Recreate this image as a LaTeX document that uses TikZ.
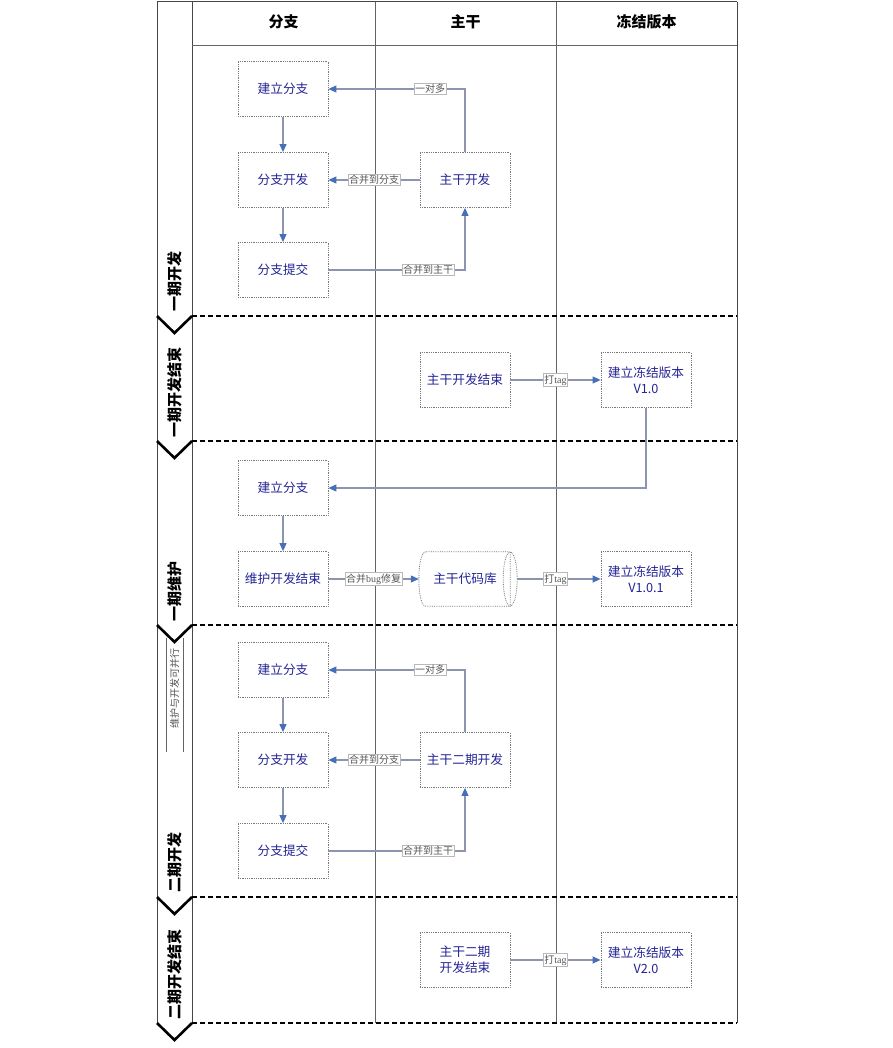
\documentclass[tikz,border=0pt]{standalone}
\usepackage{fontspec}
\setmainfont{Noto Sans CJK SC}
\newfontfamily\seriffont{Liberation Serif}
\usetikzlibrary{arrows.meta}
\definecolor{boxtext}{RGB}{36,36,150}
\definecolor{arrowblue}{RGB}{70,110,185}
\definecolor{linec}{RGB}{140,148,175}
\definecolor{framec}{RGB}{70,70,70}
\definecolor{colc}{RGB}{100,100,100}
\definecolor{boxborder}{RGB}{120,120,120}
\definecolor{lblborder}{RGB}{185,185,185}
\definecolor{lbltext}{RGB}{85,85,85}
\tikzset{
  stepbox/.style={draw=boxborder, densely dotted, line width=0.8pt, fill=white,
    minimum width=90, minimum height=55, inner sep=0pt, align=center,
    text=boxtext, font=\fontsize{12.7}{16}\selectfont},
  conn/.style={draw=linec, line width=1.1pt, -{Triangle[length=8pt,width=7pt,color=arrowblue]}},
  lbl/.style={fill=white, draw=lblborder, line width=0.6pt, inner sep=1pt,
    text=lbltext, font=\fontsize{10}{11}\selectfont},
  header/.style={font=\fontsize{15}{17}\selectfont\bfseries, text=black},
  lanelbl/.style={rotate=90, anchor=west, inner sep=0pt, font=\fontsize{15}{17}\selectfont\bfseries, text=black},
  frameline/.style={draw=framec, line width=1pt},
  colline/.style={draw=colc, line width=1pt},
  sep/.style={draw=black, line width=2.6pt, dash pattern=on 5pt off 3pt},
  chev/.style={draw=black, line width=2.6pt, line join=miter}
}
\begin{document}
\begin{tikzpicture}[x=1pt,y=-1pt]
\useasboundingbox (0,0) rectangle (892,1048);
% frame
\draw[frameline] (157,2) -- (737,2);
\draw[frameline] (157,2) -- (157,1023);
\draw[frameline] (192,2) -- (192,1023);
\draw[frameline] (737,2) -- (737,1023);
\draw[colline] (192,46) -- (737,46);
\draw[colline] (375,2) -- (375,1023);
\draw[colline] (556,2) -- (556,1023);
% headers
\node[header] (h1) at (283.5,22) {分支};
\node[header] (h2) at (465.5,22) {主干};
\node[header] (h3) at (646.5,22) {冻结版本};
% separators and chevrons
\foreach \yy in {316,441,625,897,1023}{
  \draw[sep] (192,\yy) -- (737,\yy);
  \draw[chev] (157,\yy) -- (174.5,\yy+17) -- (192,\yy);
}
% lane labels
\node[lanelbl] (l1) at (174.5,312) {一期开发};
\node[lanelbl] (l2) at (174.5,438) {一期开发结束};
\node[lanelbl] (l3) at (174.5,622) {一期维护};
\node[lanelbl] (l4) at (174.5,893) {二期开发};
\node[lanelbl] (l5) at (174.5,1020) {二期开发结束};
\draw[draw=colc, line width=0.6pt] (166,638) -- (166,752);
\draw[draw=colc, line width=0.6pt] (183,638) -- (183,752);
\node[rotate=90, text=lbltext, font=\fontsize{10}{11}\selectfont] (l6) at (174.5,688) {维护与开发可并行};
% phase 1
\node[stepbox] (b1) at (283,89) {建立分支};
\node[stepbox] (b2) at (283,180) {分支开发};
\node[stepbox] (b3) at (283,270) {分支提交};
\node[stepbox] (t1) at (465,180) {主干开发};
\draw[conn] (b1.south) -- (b2.north);
\draw[conn] (b2.south) -- (b3.north);
\draw[conn] (t1.north) |- node[lbl,pos=0.628]{一对多} (b1.east);
\draw[conn] (t1.west) -- node[lbl]{合并到分支} (b2.east);
\draw[conn] (b3.east) -| node[lbl,pos=0.365]{合并到主干} (t1.south);
% phase 1 end
\node[stepbox] (t2) at (465,380) {主干开发结束};
\node[stepbox] (f1) at (646,380) {建立冻结版本\\V1.0};
\draw[conn] (t2.east) -- node[lbl]{打{\seriffont tag}} (f1.west);
% maintenance
\node[stepbox] (b4) at (283,488) {建立分支};
\node[stepbox] (b5) at (283,579) {维护开发结束};
\node[minimum width=98, minimum height=54, inner sep=0pt] (db) at (468,579) {};
\draw[boxborder, densely dotted, line width=0.8pt, fill=white]
  ([xshift=7pt]db.north west) -- ([xshift=-7pt]db.north east)
  -- ([xshift=-7pt]db.south east) -- ([xshift=7pt]db.south west)
  .. controls ([xshift=-2.3pt]db.south west) and ([xshift=-2.3pt]db.north west) .. ([xshift=7pt]db.north west);
\draw[boxborder, densely dotted, line width=0.8pt] ([xshift=-7pt]db.east) ellipse [x radius=7, y radius=27];
\node[text=boxtext, font=\fontsize{12.7}{16}\selectfont] (dbt) at (465,579) {主干代码库};
\node[stepbox] (f2) at (646,579) {建立冻结版本\\V1.0.1};
\draw[conn] (f1.south) |- (b4.east);
\draw[conn] (b4.south) -- (b5.north);
\draw[conn] (b5.east) -- node[lbl]{合并{\seriffont bug}修复} (db.west);
\draw[conn] (db.east) -- node[lbl,pos=0.46]{打{\seriffont tag}} (f2.west);
% phase 2
\node[stepbox] (b6) at (283,670) {建立分支};
\node[stepbox] (b7) at (283,760) {分支开发};
\node[stepbox] (b8) at (283,851) {分支提交};
\node[stepbox] (t3) at (465,760) {主干二期开发};
\draw[conn] (b6.south) -- (b7.north);
\draw[conn] (b7.south) -- (b8.north);
\draw[conn] (t3.north) |- node[lbl,pos=0.628]{一对多} (b6.east);
\draw[conn] (t3.west) -- node[lbl]{合并到分支} (b7.east);
\draw[conn] (b8.east) -| node[lbl,pos=0.365]{合并到主干} (t3.south);
% phase 2 end
\node[stepbox] (t4) at (465,960) {主干二期\\开发结束};
\node[stepbox] (f3) at (646,960) {建立冻结版本\\V2.0};
\draw[conn] (t4.east) -- node[lbl]{打{\seriffont tag}} (f3.west);
\end{tikzpicture}
\end{document}
